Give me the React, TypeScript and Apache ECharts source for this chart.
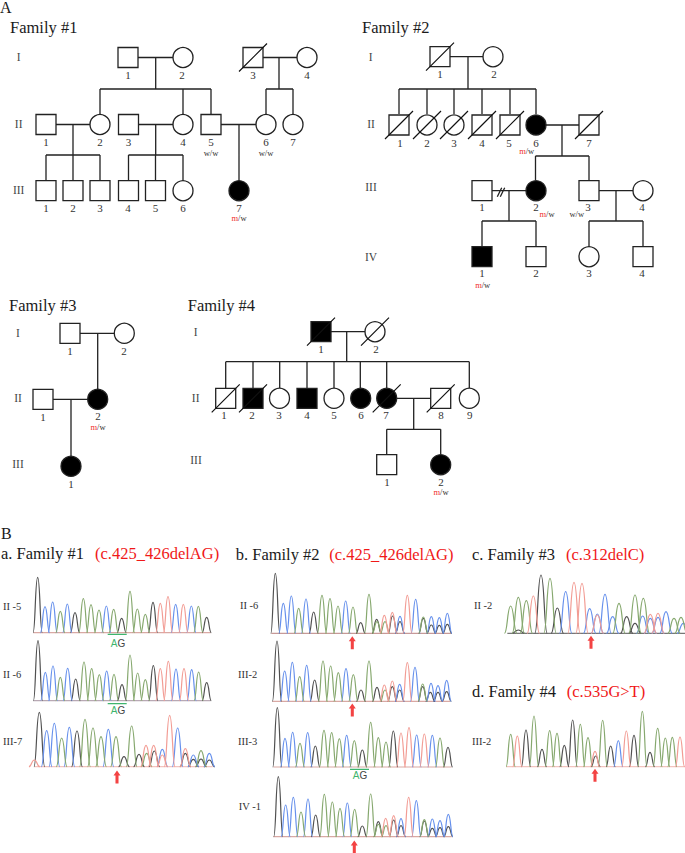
import React, { useEffect, useRef } from "react";
import * as echarts from "echarts";

type Peak = [number, number, string];

// ---------- Pedigree members (page units on the chart's axes) ----------
const openSquares = [
  [128, 57.5], [253, 57.5], [46, 124.5], [128.5, 124.5], [211, 124.5], [46, 190.7], [73, 190.7], [100, 190.7], [128.5, 190.7], [155.5, 190.7],
  [440, 56.7], [399, 125], [482, 125], [510, 125], [589, 125], [482, 190.7], [589, 190.7], [536, 256.7], [643, 256.7],
  [70, 333.3], [43, 399.3],
  [225.7, 398.3], [440.7, 398.3], [386.7, 464.7],
];
const filledSquares = [[482, 256.7], [321, 331.7], [253, 398.3], [307, 398.3]];
const openCircles = [
  [183, 57.5], [307, 57.5], [100, 124.5], [183, 124.5], [266, 124.5], [293, 124.5], [183, 190.7],
  [493, 56.7], [427, 125], [454, 125], [643, 190.7], [589, 256.7],
  [124.3, 333.3],
  [375, 331.7], [279.5, 398.3], [334, 398.3], [469.3, 398.3],
];
const filledCircles = [
  [239, 190.7], [536, 125], [536, 190.7], [97.7, 399.3], [71, 466.3], [360.7, 398.3], [386.7, 398.3], [440.7, 464.7],
];
const deceased = [
  [253, 57.5], [440, 56.7], [399, 125], [427, 125], [454, 125], [482, 125], [510, 125], [589, 125],
  [321, 331.7], [375, 331.7], [225.7, 398.3], [253, 398.3], [386.7, 398.3], [440.7, 398.3],
];
// x1, y1, x2, y2
const pedigreeLines = [
  // Family 1
  [128, 57.5, 183, 57.5], [155.7, 57.5, 155.7, 89], [100, 89, 211, 89], [100, 89, 100, 115], [183, 89, 183, 115], [211, 89, 211, 115],
  [253, 57.5, 307, 57.5], [279, 57.5, 279, 89], [266, 89, 293, 89], [266, 89, 266, 115], [293, 89, 293, 115],
  [46, 124.5, 100, 124.5], [73, 124.5, 73, 155], [46, 155, 100, 155], [46, 155, 46, 181], [73, 155, 73, 181], [100, 155, 100, 181],
  [128.5, 124.5, 183, 124.5], [155.7, 124.5, 155.7, 155], [128.5, 155, 183, 155], [128.5, 155, 128.5, 181], [155.5, 155, 155.5, 181], [183, 155, 183, 181],
  [211, 124.5, 266, 124.5], [239, 124.5, 239, 181],
  // Family 2
  [440, 56.7, 493, 56.7], [468, 56.7, 468, 89], [399, 89, 536, 89],
  [399, 89, 399, 114], [427, 89, 427, 114], [454, 89, 454, 114], [482, 89, 482, 114], [510, 89, 510, 114], [536, 89, 536, 114],
  [536, 125, 589, 125], [562, 125, 562, 156], [535.5, 156, 589, 156], [535.5, 156, 535.5, 180], [589, 156, 589, 180],
  [482, 190.7, 536, 190.7], [509, 190.7, 509, 221], [482, 221, 536, 221], [482, 221, 482, 247], [536, 221, 536, 247],
  [497.3, 196.7, 501.7, 187.7], [500.3, 196.7, 504.7, 187.7],
  [589, 190.7, 643, 190.7], [616, 190.7, 616, 221], [589, 221, 643, 221], [589, 221, 589, 247], [643, 221, 643, 247],
  // Family 3
  [70, 333.3, 124.3, 333.3], [97.7, 333.3, 97.7, 390], [43, 399.3, 97.7, 399.3], [71, 399.3, 71, 457],
  // Family 4
  [321, 331.7, 375, 331.7], [346.7, 331.7, 346.7, 361.7], [225.7, 361.7, 469.3, 361.7],
  [225.7, 361.7, 225.7, 388], [253, 361.7, 253, 388], [279.7, 361.7, 279.7, 388], [307, 361.7, 307, 388], [334, 361.7, 334, 388],
  [360.3, 361.7, 360.3, 388], [386.7, 361.7, 386.7, 388], [469.3, 361.7, 469.3, 388],
  [386.7, 398.3, 440.7, 398.3], [413.7, 398.3, 413.7, 429.3], [386.7, 429.3, 440.7, 429.3], [386.7, 429.3, 386.7, 454.3], [440.7, 429.3, 440.7, 454.3],
];

// ---------- Texts ----------
const romanLabels: [number, number, string][] = [
  [18.7, 57, "I"], [18.7, 124, "II"], [18.7, 190, "III"],
  [370.7, 57, "I"], [371, 124, "II"], [371, 187, "III"], [371, 257, "IV"],
  [18, 333, "I"], [18, 398, "II"], [18, 464, "III"],
  [195.7, 331.7, "I"], [195.7, 397.7, "II"], [196, 460, "III"],
];
const memberNumbers: [number, number, string][] = [
  [128, 75, "1"], [182, 75, "2"], [253, 75, "3"], [307, 75, "4"],
  [46, 141.7, "1"], [100, 141.7, "2"], [128.5, 141.7, "3"], [183, 141.7, "4"], [211, 141.7, "5"], [266, 141.7, "6"], [293, 141.7, "7"],
  [46, 208, "1"], [73, 208, "2"], [100, 208, "3"], [128, 208, "4"], [155.5, 208, "5"], [183, 208, "6"], [239, 207.5, "7"],
  [440, 73.7, "1"], [494, 73.7, "2"],
  [400, 142.7, "1"], [427, 142.7, "2"], [454, 142.7, "3"], [482, 142.7, "4"], [509, 142.7, "5"], [536, 142.7, "6"], [589, 142.7, "7"],
  [482, 207, "1"], [536, 207, "2"], [588, 207, "3"], [642, 207, "4"],
  [482, 273, "1"], [536, 273, "2"], [589, 273, "3"], [642, 273, "4"],
  [70, 350.7, "1"], [124, 350.7, "2"], [43, 417, "1"], [98, 416, "2"], [71, 484, "1"],
  [321, 349, "1"], [376, 349, "2"],
  [224, 415, "1"], [252, 415, "2"], [279, 415, "3"], [307, 415, "4"], [334, 415, "5"], [361, 415, "6"], [386, 415, "7"], [441, 415, "8"], [469.7, 415, "9"],
  [387, 481.7, "1"], [441, 481.7, "2"],
];
const genotypes: [number, number, string][] = [
  [211, 152.5, "w/w"], [266, 152.5, "w/w"], [239, 218, "m/w"],
  [526.7, 150.5, "m/w"], [547, 213.5, "m/w"], [576.7, 213.5, "w/w"], [482.7, 284.5, "m/w"],
  [98, 427, "m/w"], [441, 491.5, "m/w"],
];
const headings: [number, number, string][] = [
  [10, 27, "Family #1"], [362, 27, "Family #2"], [9, 305.7, "Family #3"], [187.7, 305.7, "Family #4"],
  [1, 553.5, "a. Family #1"], [235.7, 554.3, "b. Family #2"], [472, 554, "c. Family #3"], [472, 691.7, "d. Family #4"],
];
const panelLetters: [number, number, string][] = [[0, 7, "A"], [1, 533, "B"]];
const mutations: [number, number, string][] = [
  [95, 553.5, "(c.425_426delAG)"], [329.3, 554.3, "(c.425_426delAG)"], [566, 554, "(c.312delC)"], [566.7, 691.7, "(c.535G>T)"],
];
const traceLabels: [number, number, string][] = [
  [3, 606.7, "II -5"], [3, 674.7, "II -6"], [3, 741.7, "III-7"],
  [240, 605, "II -6"], [238, 674, "III-2"], [238, 741.7, "III-3"], [238.7, 806.7, "IV -1"],
  [474, 605, "II -2"], [472, 741.7, "III-2"],
];
const wildTypeMarks: [number, number, string][] = [[118, 643, "AG"], [118, 710.3, "AG"], [360, 775, "AG"]];
const wildTypeBars = [[107.7, 634.3, 126.7, 634.3], [107.7, 703.7, 126.7, 703.7], [350, 769.3, 369, 769.3]];
const arrows = [[117, 777], [352.3, 642.7], [352.3, 710], [354.3, 847], [591, 642.3], [595, 775.3]];

// ---------- Chromatogram peaks: [x, top, base], in 3x crop units ----------
const peaksA1: Peak[] = [[113,172,"k"],[135,260,"b"],[158,246,"b"],[181,274,"g"],[202,252,"b"],[225,278,"k"],[250,236,"g"],[273,254,"g"],[297,270,"g"],[319,258,"b"],[341,268,"g"],[365,295,"k"],[390,214,"g"],[412,267,"g"],[436,283,"g"],[459,247,"k"],[481,250,"r"],[504,230,"r"],[527,253,"b"],[550,253,"r"],[574,258,"b"],[595,259,"g"],[620,292,"k"]];
const peaksA2: Peak[] = [[114,362,"k"],[136,457,"b"],[159,438,"b"],[181,472,"g"],[203,445,"b"],[227,477,"k"],[252,426,"g"],[275,446,"g"],[298,464,"g"],[320,453,"b"],[342,463,"g"],[366,494,"k"],[390,405,"g"],[413,459,"g"],[436,479,"g"],[460,437,"k"],[481,446,"r"],[505,424,"r"],[528,447,"b"],[552,446,"r"],[575,449,"b"],[596,456,"g"],[620,488,"k"]];
const peaksA3: Peak[] = [[103,720,"r"],[118,577,"k"],[140,632,"b"],[163,610,"b"],[185,654,"g"],[208,622,"b"],[231,633,"k"],[255,598,"g"],[279,624,"g"],[303,650,"g"],[325,628,"b"],[348,650,"g"],[372,710,"k"],[395,618,"g"],[417,703,"k"],[438,676,"r"],[440,700,"g"],[461,676,"r"],[463,693,"k"],[487,688,"b"],[487,705,"r"],[509,586,"r"],[533,624,"b"],[556,686,"r"],[556,700,"k"],[580,718,"k"],[580,705,"b"],[603,692,"g"],[603,717,"k"],[628,700,"b"],[628,720,"k"]];
const peaksB1: Peak[] = [[136,100,"k"],[160,190,"b"],[184,168,"b"],[206,205,"g"],[228,177,"b"],[251,216,"k"],[276,166,"g"],[300,176,"g"],[324,198,"g"],[347,183,"b"],[369,201,"g"],[392,248,"k"],[417,163,"g"],[440,238,"k"],[441,245,"g"],[463,226,"r"],[465,245,"g"],[487,217,"r"],[488,228,"k"],[510,229,"b"],[510,245,"k"],[532,166,"r"],[557,178,"b"],[580,231,"g"],[580,235,"k"],[604,255,"k"],[604,230,"b"],[628,233,"b"],[628,256,"k"],[652,220,"b"],[652,253,"k"]];
const peaksB2: Peak[] = [[141,303,"k"],[164,393,"b"],[187,367,"b"],[209,410,"g"],[230,376,"b"],[254,420,"k"],[279,363,"g"],[302,378,"g"],[325,398,"g"],[348,386,"b"],[370,404,"g"],[393,450,"k"],[417,363,"g"],[441,442,"k"],[463,435,"r"],[465,450,"g"],[487,423,"r"],[487,440,"k"],[509,433,"b"],[509,450,"k"],[532,368,"r"],[555,382,"b"],[578,432,"g"],[578,440,"k"],[601,457,"k"],[603,430,"b"],[624,437,"b"],[624,457,"k"],[650,421,"b"],[650,455,"k"]];
const peaksB3: Peak[] = [[142,38,"k"],[165,130,"b"],[188,112,"b"],[210,145,"g"],[233,113,"b"],[256,153,"k"],[282,106,"g"],[305,113,"g"],[328,131,"g"],[350,121,"b"],[373,137,"g"],[397,165,"k"],[422,82,"g"],[445,128,"g"],[468,141,"g"],[490,108,"k"],[513,114,"r"],[537,98,"r"],[560,120,"b"],[583,117,"r"],[607,121,"b"],[630,129,"g"],[654,157,"k"]];
const peaksB4: Peak[] = [[145,245,"k"],[167,330,"b"],[190,307,"b"],[213,351,"g"],[234,312,"b"],[257,360,"k"],[283,298,"g"],[307,321,"g"],[330,340,"g"],[352,324,"b"],[374,343,"g"],[397,393,"k"],[422,297,"g"],[445,380,"k"],[445,388,"g"],[467,370,"r"],[468,392,"g"],[491,362,"r"],[491,375,"k"],[513,371,"b"],[513,392,"k"],[536,307,"r"],[559,317,"b"],[583,374,"g"],[583,378,"k"],[607,400,"k"],[607,372,"b"],[630,377,"b"],[630,398,"k"],[655,358,"b"],[655,395,"k"]];
const peaksC: Peak[] = [[137,198,"g"],[160,172,"g"],[184,182,"g"],[205,168,"r"],[228,105,"k"],[255,115,"g"],[277,204,"k"],[302,155,"b"],[327,127,"r"],[351,130,"r"],[374,206,"b"],[397,225,"r"],[397,222,"b"],[420,163,"b"],[443,230,"b"],[462,190,"g"],[485,230,"k"],[510,165,"g"],[510,250,"k"],[535,175,"g"],[533,228,"b"],[556,223,"r"],[556,235,"b"],[579,220,"r"],[579,232,"b"],[603,215,"b"],[627,235,"g"],[648,232,"g"],[655,250,"b"],[160,270,"k"]];
const peaksD: Peak[] = [[137,583,"g"],[157,588,"r"],[183,570,"k"],[207,528,"g"],[231,628,"k"],[254,572,"g"],[276,580,"g"],[298,616,"k"],[323,540,"k"],[346,553,"g"],[369,593,"g"],[392,648,"k"],[390,634,"r"],[413,541,"g"],[437,618,"k"],[460,602,"b"],[484,573,"r"],[507,586,"k"],[532,514,"g"],[555,637,"k"],[578,565,"g"],[601,594,"g"],[622,592,"g"],[645,591,"r"]];

const traces = [
  { peaks: peaksA1, ox: 0, oy: 520, base: 338, from: 100, to: 632, width: 4.6, rule: "#d9a9a4" },
  { peaks: peaksA2, ox: 0, oy: 520, base: 542, from: 100, to: 632, width: 4.6, rule: "#b8a9b4" },
  { peaks: peaksA3, ox: 0, oy: 520, base: 740, from: 103, to: 638, width: 5.4, rule: "#f3c4bf" },
  { peaks: peaksB1, ox: 230, oy: 540, base: 280, from: 124, to: 663, width: 4.6, rule: "#c79a98" },
  { peaks: peaksB2, ox: 230, oy: 540, base: 484, from: 127, to: 660, width: 4.6, rule: "#d9a9a4" },
  { peaks: peaksB3, ox: 230, oy: 695, base: 216, from: 130, to: 665, width: 4.6, rule: "#d9a9a4" },
  { peaks: peaksB4, ox: 230, oy: 695, base: 425, from: 130, to: 665, width: 4.6, rule: "#d9a9a4" },
  { peaks: peaksC, ox: 465, oy: 540, base: 280, from: 127, to: 660, width: 6.2, rule: "#777777" },
  { peaks: peaksD, ox: 465, oy: 540, base: 680, from: 124, to: 660, width: 4.6, rule: "#f3c4bf" },
];

const baseColours: Record<string, string> = { k: "#505050", b: "#6690ec", g: "#86a86e", r: "#f29c94" };
const INK = "#222222";
const SERIF = "Liberation Serif";

function broken(segments: number[][]) {
  const out: number[][] = [];
  segments.forEach(([a, b, c, d]) => { out.push([a, b], [c, d], [NaN, NaN]); });
  return out;
}

function peakSeries(code: string) {
  const data: number[][] = [];
  traces.forEach((t) => {
    t.peaks.forEach(([x, top, c]) => {
      if (c === code) data.push([t.ox + x / 3, t.oy + top / 3, t.oy + t.base / 3, t.width]);
    });
  });
  return {
    type: "custom",
    name: code,
    silent: true,
    z: 5,
    data,
    renderItem: (_p: any, api: any) => {
      const [x, top] = api.coord([api.value(0), api.value(1)]);
      const [, base] = api.coord([api.value(0), api.value(2)]);
      const w = api.value(3);
      const d = `M${x - w} ${base}C${x - 0.5 * w} ${base} ${x - 0.55 * w} ${top} ${x} ${top}C${x + 0.55 * w} ${top} ${x + 0.5 * w} ${base} ${x + w} ${base}`;
      return { type: "path", shape: { pathData: d }, style: { fill: "none", stroke: baseColours[code], lineWidth: 1.2 } };
    },
  };
}

function memberSeries(name: string, symbol: string, data: number[][], fill: string) {
  return {
    type: "scatter",
    name,
    symbol,
    symbolSize: 20,
    z: 3,
    silent: true,
    data,
    itemStyle: { color: fill, borderColor: INK, borderWidth: 1.3, opacity: 1 },
  };
}

function textSeries(name: string, rows: [number, number, string][], label: any) {
  return {
    type: "scatter",
    name,
    symbolSize: 1,
    z: 6,
    silent: true,
    itemStyle: { color: "#ffffff", opacity: 0 },
    data: rows.map(([x, y, t]) => ({ value: [x, y], name: t })),
    label: {
      show: true,
      position: "inside",
      fontFamily: SERIF,
      verticalAlign: "middle",
      textBorderWidth: 0,
      textBorderColor: "transparent",
      opacity: 1,
      formatter: (p: any) => p.name,
      ...label,
    },
  };
}

function lineSeries(name: string, data: number[][], color: string, width: number, z: number) {
  return {
    type: "line",
    name,
    data,
    showSymbol: false,
    symbol: "none",
    silent: true,
    connectNulls: false,
    z,
    lineStyle: { color, width, cap: "butt" },
  };
}

export default function App() {
  const ref = useRef<HTMLDivElement>(null);
  useEffect(() => {
    const chart = echarts.init(ref.current!, undefined, { renderer: "svg" });
    const slashes = deceased.map(([x, y]) => [x - 14, y + 14, x + 14, y - 14]);
    chart.setOption({
      animation: false,
      backgroundColor: "#ffffff",
      grid: { left: 0, right: 0, top: 0, bottom: 0 },
      xAxis: { type: "value", min: 0, max: 685, show: false },
      yAxis: { type: "value", min: 0, max: 853, inverse: true, show: false },
      series: [
        lineSeries("pedigree", broken(pedigreeLines), INK, 1.3, 1),
        memberSeries("male", "rect", openSquares, "#ffffff"),
        memberSeries("female", "circle", openCircles, "#ffffff"),
        memberSeries("affected male", "rect", filledSquares, "#000000"),
        memberSeries("affected female", "circle", filledCircles, "#000000"),
        lineSeries("deceased", broken(slashes), "#111111", 1.2, 4),
        ...traces.map((t, i) =>
          lineSeries("baseline" + i, [[t.ox + t.from / 3, t.oy + t.base / 3], [t.ox + t.to / 3, t.oy + t.base / 3]], t.rule, 1.1, 4)
        ),
        peakSeries("k"),
        peakSeries("b"),
        peakSeries("g"),
        peakSeries("r"),
        lineSeries("wild type bars", broken(wildTypeBars), "#3fb56e", 1.3, 5),
        {
          type: "scatter",
          name: "arrows",
          silent: true,
          z: 6,
          symbol: "path://M3 0L6 5H4.3V13H1.7V5H0Z",
          symbolSize: [7, 13],
          itemStyle: { color: "#f01414" },
          data: arrows,
        },
        textSeries("roman", romanLabels, { fontSize: 11.5, color: "#444444", align: "center" }),
        textSeries("numbers", memberNumbers, { fontSize: 11, color: "#333333", align: "center" }),
        textSeries("genotypes", genotypes, {
          fontSize: 8.5,
          align: "center",
          color: "#333333",
          formatter: (p: any) => (p.name === "m/w" ? "{m|m}{w|/w}" : "{w|w/w}"),
          rich: {
            m: { fontSize: 8.5, color: "#f03030", fontFamily: SERIF, textBorderWidth: 0 },
            w: { fontSize: 8.5, color: "#333333", fontFamily: SERIF, textBorderWidth: 0 },
          },
        }),
        textSeries("headings", headings, { fontSize: 16.5, color: "#1a1a1a", align: "left" }),
        textSeries("panels", panelLetters, { fontSize: 16, color: "#1a1a1a", align: "left" }),
        textSeries("mutations", mutations, { fontSize: 16.5, color: "#f01818", align: "left" }),
        textSeries("trace labels", traceLabels, { fontSize: 10.5, color: "#333333", align: "left" }),
        textSeries("wild type", wildTypeMarks, {
          fontSize: 10,
          align: "center",
          formatter: () => "{a|A}{g|G}",
          rich: {
            a: { fontSize: 10, color: "#3fb56e", fontFamily: "Liberation Sans", textBorderWidth: 0 },
            g: { fontSize: 10, color: "#444444", fontFamily: "Liberation Sans", textBorderWidth: 0 },
          },
        }),
      ],
    });
    return () => chart.dispose();
  }, []);
  return <div ref={ref} style={{ position: "absolute", left: 0, top: 0, width: 685, height: 853 }} />;
}
